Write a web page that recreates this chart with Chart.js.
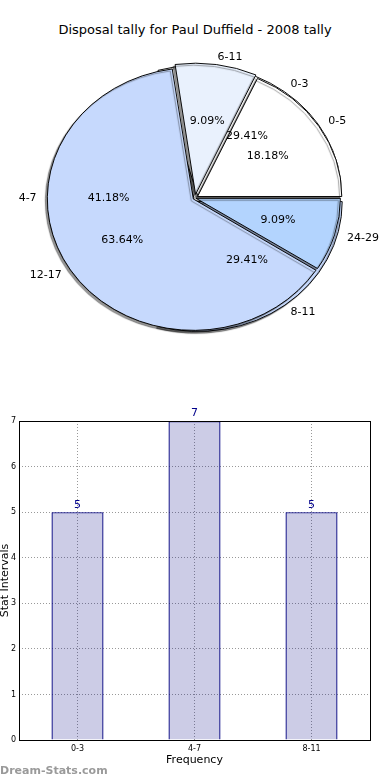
<!DOCTYPE html>
<html>
<head>
<meta charset="utf-8">
<script src="https://cdn.jsdelivr.net/npm/chart.js@4.4.0/dist/chart.umd.min.js"></script>
<style>
    body { margin: 0; background: #fff; width: 390px; height: 780px; position: relative; overflow: hidden; font-family: "DejaVu Sans", sans-serif; }
    #title { position: absolute; top: 22px; left: 0; width: 390px; text-align: center; font-size: 13px; line-height: 16px; color: #000; }
    .pie { position: absolute; left: 0; top: 0; }
    #barChart { position: absolute; left: 0; top: 400px; }
</style>
</head>
<body>
<div id="title">Disposal tally for Paul Duffield - 2008 tally</div>
<canvas id="pieBack" class="pie" width="390" height="396"></canvas>
<canvas id="pieFront" class="pie" width="390" height="396"></canvas>
<canvas id="barChart" width="390" height="380"></canvas>
<script>
// Tally data
const intervalLabels = ['0-3', '4-7', '8-11'];
const intervalCounts = [5, 7, 5];
const intervalColors = ['#ffffff', '#c6d9fd', '#c6d9fd'];
const intervalExplode = [16, 4, 20];

const rangeLabels = ['0-5', '6-11', '12-17', '24-29'];
const rangeCounts = [2, 1, 7, 1];
const rangeColors = ['#ffffff', '#e9f1fd', '#c6d9fd', '#b3d4fe'];
const rangeExplode = [12, 16, 8, 4];

const yMax = 7;

const FONT = '"DejaVu Sans", sans-serif';
const SQUASH = 0.9;   // the pie is drawn a bit flattened

// Squash the pie vertically and give it a shadow
const ellipsePlugin = {
    id: 'ellipse',
    beforeDatasetsDraw(chart) {
        const arc = chart.getDatasetMeta(0).data[0];
        const ctx = chart.ctx;
        ctx.save();
        ctx.translate(arc.x, arc.y);
        ctx.scale(1, SQUASH);
        ctx.translate(-arc.x, -arc.y);
        ctx.shadowColor = 'rgba(0,0,0,0.4)';
        ctx.shadowOffsetX = -2;
        ctx.shadowOffsetY = 2;
        ctx.shadowBlur = 1;
    },
    afterDatasetsDraw(chart) {
        chart.ctx.restore();
    }
};

// Matplotlib-style labels (1.1 R) and percentages (0.6 R), for both pies
function drawPieText(chart, ctx) {
    const meta = chart.getDatasetMeta(0);
    const names = chart.data.labels;
    const values = chart.data.datasets[0].data;
    const total = values.reduce((a, b) => a + b, 0);
    ctx.fillStyle = '#000';
    ctx.font = '11px ' + FONT;
    ctx.textBaseline = 'middle';
    meta.data.forEach((arc, i) => {
        const p = arc.getProps(['x', 'y', 'startAngle', 'endAngle', 'outerRadius'], true);
        const mid = (p.startAngle + p.endAngle) / 2;
        const c = Math.cos(mid), s = Math.sin(mid);
        ctx.textAlign = c > 0 ? 'left' : 'right';
        ctx.fillText(names[i], p.x + 1.1 * p.outerRadius * c, p.y + 1.1 * p.outerRadius * s * SQUASH);
        ctx.textAlign = 'center';
        ctx.fillText((values[i] / total * 100).toFixed(2) + '%', p.x + 0.6 * p.outerRadius * c, p.y + 0.6 * p.outerRadius * s * SQUASH);
    });
}

function pieConfig(labels, counts, colors, explode, extraPlugins) {
    // matplotlib goes counter-clockwise from 3 o'clock, Chart.js clockwise
    return {
        type: 'pie',
        data: {
            labels: labels.slice().reverse(),
            datasets: [{
                data: counts.slice().reverse(),
                backgroundColor: colors.slice().reverse(),
                offset: explode.slice().reverse(),
                borderColor: '#000',
                borderWidth: 1
            }]
        },
        options: {
            responsive: false,
            animation: false,
            rotation: 90,
            radius: 144,
            plugins: { legend: { display: false }, tooltip: { enabled: false } }
        },
        plugins: [ellipsePlugin].concat(extraPlugins)
    };
}

const backChart = new Chart(document.getElementById('pieBack'),
    pieConfig(intervalLabels, intervalCounts, intervalColors, intervalExplode, []));

new Chart(document.getElementById('pieFront'),
    pieConfig(rangeLabels, rangeCounts, rangeColors, rangeExplode, [{
        id: 'pieText',
        afterDraw(chart) {
            drawPieText(backChart, chart.ctx);
            drawPieText(chart, chart.ctx);
        }
    }]));

// Bar chart helpers
const framePlugin = {
    id: 'frame',
    afterDraw(chart) {
        const a = chart.chartArea;
        const ctx = chart.ctx;
        ctx.save();
        ctx.strokeStyle = '#000';
        ctx.lineWidth = 1;
        ctx.strokeRect(a.left + 0.5, a.top + 0.5, a.right - a.left, a.bottom - a.top);
        ctx.restore();
    }
};

const valuePlugin = {
    id: 'values',
    afterDatasetsDraw(chart) {
        const ctx = chart.ctx;
        const values = chart.data.datasets[0].data;
        ctx.save();
        ctx.fillStyle = '#00008b';
        ctx.font = '11px ' + FONT;
        ctx.textAlign = 'center';
        ctx.textBaseline = 'bottom';
        chart.getDatasetMeta(0).data.forEach((bar, i) => {
            ctx.fillText(values[i], bar.x, bar.y - 2);
        });
        ctx.restore();
    }
};

const watermarkPlugin = {
    id: 'watermark',
    afterDraw(chart) {
        const ctx = chart.ctx;
        ctx.save();
        ctx.fillStyle = '#9a9a9a';
        ctx.font = 'bold 11px ' + FONT;
        ctx.textAlign = 'left';
        ctx.textBaseline = 'middle';
        ctx.fillText('Dream-Stats.com', 0, chart.height - 9);
        ctx.restore();
    }
};

new Chart(document.getElementById('barChart'), {
    type: 'bar',
    data: {
        labels: intervalLabels,
        datasets: [{
            data: intervalCounts,
            backgroundColor: 'rgba(0,0,128,0.2)',
            borderColor: '#000080',
            borderWidth: 1.2,
            barPercentage: 0.445,
            categoryPercentage: 1
        }]
    },
    options: {
        responsive: false,
        animation: false,
        layout: { padding: { top: 21, right: 20, bottom: 0, left: 0 } },
        plugins: { legend: { display: false }, tooltip: { enabled: false } },
        scales: {
            x: {
                grid: { offset: false, color: '#999999', drawTicks: false },
                border: { display: false, dash: [1, 2] },
                ticks: { color: '#000', font: { size: 8, family: FONT }, padding: 4 },
                title: { display: true, text: 'Frequency', color: '#000', font: { size: 11, family: FONT }, padding: { top: 0, bottom: 13 } },
                afterFit(scale) { scale.height = 40; }
            },
            y: {
                min: 0,
                max: yMax,
                ticks: { stepSize: 1, color: '#000', font: { size: 8, family: FONT }, padding: 3 },
                grid: { color: '#999999', drawTicks: false },
                border: { display: false, dash: [1, 2] },
                title: { display: true, text: 'Stat Intervals', color: '#000', font: { size: 11, family: FONT, lineHeight: 1 }, padding: 0 },
                afterFit(scale) { scale.width = 19; }
            }
        }
    },
    plugins: [framePlugin, valuePlugin, watermarkPlugin]
});
</script>
</body>
</html>
